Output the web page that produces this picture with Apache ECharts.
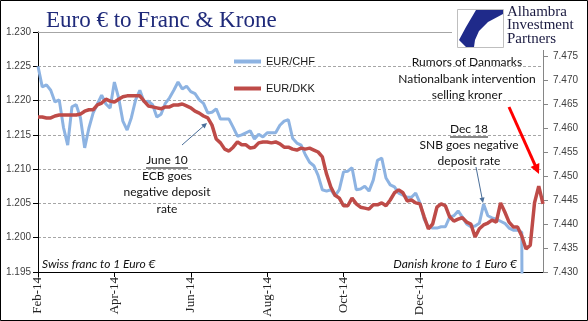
<!DOCTYPE html>
<html><head><meta charset="utf-8">
<script src="https://cdn.jsdelivr.net/npm/echarts@6/dist/echarts.min.js"></script>
<style>html,body{margin:0;padding:0;background:#fff}#c{width:588px;height:321px}</style>
</head><body><div id="c"></div>
<script>
// x positions: roughly every third trading day, Feb 2014 - Jan 2015
const tickLabels = ['Feb-14','Apr-14','Jun-14','Aug-14','Oct-14','Dec-14'];
const tickIndices = [0,18,36,54,72,90];
const eurChf = [
1.2250,1.2220,1.2223,1.2215,1.2198,1.2201,1.2161,1.2135,1.2191,1.2194,
1.2175,1.2131,1.2160,1.2182,1.2195,1.2208,1.2195,1.2189,1.2227,1.2204,
1.2170,1.2157,1.2175,1.2201,1.2215,1.2198,1.2199,1.2194,1.2176,1.2180,
1.2196,1.2204,1.2215,1.2227,1.2217,1.2221,1.2213,1.2210,1.2201,1.2196,
1.2182,1.2183,1.2188,1.2173,1.2173,1.2173,1.2161,1.2148,1.2150,1.2153,
1.2156,1.2144,1.2151,1.2147,1.2153,1.2153,1.2153,1.2164,1.2170,1.2172,
1.2145,1.2138,1.2135,1.2121,1.2110,1.2105,1.2091,1.2070,1.2068,1.2070,
1.2061,1.2070,1.2096,1.2097,1.2102,1.2070,1.2071,1.2075,1.2068,1.2084,
1.2113,1.2116,1.2087,1.2077,1.2074,1.2065,1.2062,1.2059,1.2059,1.2065,
1.2051,1.2027,1.2016,1.2014,1.2014,1.2016,1.2016,1.2030,1.2032,1.2039,
1.2030,1.2020,1.2016,1.2017,1.2021,1.2049,1.2032,1.2029,1.2027,1.2024,
1.2021,1.2014,1.2011,1.2011,1.2008,1.0300,1.0200,1.0400,1.0500,1.0400
];
const eurDkk = [
7.4623,7.4623,7.4621,7.4621,7.4625,7.4627,7.4627,7.4627,7.4627,7.4627,
7.4629,7.4635,7.4638,7.4638,7.4648,7.4652,7.4660,7.4656,7.4654,7.4660,
7.4665,7.4667,7.4667,7.4667,7.4667,7.4656,7.4646,7.4644,7.4642,7.4640,
7.4644,7.4644,7.4648,7.4648,7.4650,7.4646,7.4642,7.4635,7.4631,7.4625,
7.4621,7.4606,7.4577,7.4569,7.4556,7.4552,7.4560,7.4571,7.4565,7.4565,
7.4558,7.4560,7.4569,7.4571,7.4571,7.4569,7.4571,7.4567,7.4560,7.4560,
7.4556,7.4554,7.4558,7.4556,7.4558,7.4554,7.4550,7.4540,7.4504,7.4477,
7.4460,7.4454,7.4438,7.4438,7.4454,7.4442,7.4435,7.4433,7.4431,7.4440,
7.4440,7.4444,7.4438,7.4450,7.4465,7.4471,7.4465,7.4448,7.4450,7.4444,
7.4442,7.4415,7.4390,7.4400,7.4435,7.4442,7.4438,7.4415,7.4406,7.4410,
7.4413,7.4404,7.4400,7.4373,7.4390,7.4398,7.4402,7.4408,7.4404,7.4444,
7.4425,7.4404,7.4394,7.4394,7.4375,7.4348,7.4356,7.4444,7.4479,7.4442
];
const seriesNames = ['EUR/CHF','EUR/DKK'];

const categories = eurDkk.map((_, i) => {
  const k = tickIndices.indexOf(i);
  return k >= 0 ? tickLabels[k] : '';
});
const isTick = (i) => tickIndices.indexOf(i) >= 0;

const annFont = 'Lato, "Open Sans", sans-serif';
function arrow(x1, y1, x2, y2, color, w, head) {
  const a = Math.atan2(y2 - y1, x2 - x1);
  const hx1 = x2 - head * Math.cos(a - 0.45), hy1 = y2 - head * Math.sin(a - 0.45);
  const hx2 = x2 - head * Math.cos(a + 0.45), hy2 = y2 - head * Math.sin(a + 0.45);
  return [
    {type:'line', shape:{x1, y1, x2: x2 - head*0.6*Math.cos(a), y2: y2 - head*0.6*Math.sin(a)}, style:{stroke:color, lineWidth:w}, z:100},
    {type:'polygon', shape:{points:[[x2,y2],[hx1,hy1],[hx2,hy2]]}, style:{fill:color}, z:100}
  ];
}
function txt(x, y, s, opts) {
  return Object.assign({type:'text', x, y, z:100, style:Object.assign({text:s, font:'12px ' + annFont, fill:'#111', textAlign:'center', textVerticalAlign:'middle'}, opts||{})});
}

const chart = echarts.init(document.getElementById('c'), null, {renderer:'canvas'});
chart.setOption({
  animation: false,
  backgroundColor: '#fff',
  title: {
    text: 'Euro € to Franc & Krone', left: 41, top: 4,
    textStyle: {fontFamily: '"Liberation Serif", serif', fontSize: 23, fontWeight: 'normal', color: '#1F2A7A'}
  },
  legend: {
    orient: 'vertical', left: 229, top: 51, itemWidth: 27, itemHeight: 4, itemGap: 16, icon: 'rect',
    data: seriesNames,
    textStyle: {fontFamily: '"Liberation Sans", Arial, sans-serif', fontSize: 11, color: '#1a1a1a'}
  },
  grid: {left: 38, right: 45, top: 32, bottom: 49},
  xAxis: {
    type: 'category', boundaryGap: false, data: categories,
    axisLine: {lineStyle: {color: '#000', width: 1}},
    axisTick: {show: true, interval: (i) => isTick(i), length: 5, lineStyle: {color: '#000'}},
    axisLabel: {interval: (i) => isTick(i), rotate: 90, margin: 5,
      fontFamily: '"Liberation Serif", serif', fontSize: 13, color: '#222'},
    splitLine: {show: false}
  },
  yAxis: [{
    type: 'value', min: 1.195, max: 1.230, interval: 0.005, position: 'left',
    axisLine: {show: true, lineStyle: {color: '#000'}},
    axisTick: {show: true, length: 5, lineStyle: {color: '#000'}},
    axisLabel: {formatter: (v) => v.toFixed(3), margin: 7,
      fontFamily: '"Liberation Sans", Tahoma, sans-serif', fontSize: 10, color: '#404040'},
    splitLine: {show: true, lineStyle: {color: '#A6A6A6', type: [3, 2], width: 1}}
  }, {
    type: 'value', min: 7.430, max: 7.480, interval: 0.005, position: 'right',
    axisLine: {show: true, lineStyle: {color: '#868686'}},
    axisTick: {show: true, length: 5, lineStyle: {color: '#868686'}},
    axisLabel: {formatter: (v) => (v > 7.4795 ? '' : v.toFixed(3)), margin: 10,
      fontFamily: '"Liberation Sans", Tahoma, sans-serif', fontSize: 10, color: '#404040'},
    splitLine: {show: false}
  }],
  series: [{
    name: seriesNames[0], type: 'line', yAxisIndex: 0, data: eurChf, showSymbol: false, clip: true,
    lineStyle: {width: 3, color: '#8DB3E2'}, itemStyle: {color: '#8DB3E2'}
  }, {
    name: seriesNames[1], type: 'line', yAxisIndex: 1, data: eurDkk, showSymbol: false, clip: true,
    lineStyle: {width: 3.5, color: '#BE4B48'}, itemStyle: {color: '#BE4B48'}
  }],
  graphic: [
    {type:'rect', shape:{x:0.5, y:0.5, width:587, height:320}, style:{fill:'none', stroke:'#000', lineWidth:1}, z:200},
    {type:'line', shape:{x1:38, y1:32.5, x2:455, y2:32.5}, style:{stroke:'#A6A6A6', lineWidth:1}, z:1},
    // logo
    {type:'rect', shape:{x:452, y:4, width:130, height:46}, style:{fill:'#fff'}, z:90},
    {type:'rect', shape:{x:457.5, y:9.5, width:46, height:38}, style:{fill:'#fff', stroke:'#BFBFBF', lineWidth:1}, z:95},
    {type:'polygon', shape:{points:[[476,10],[503,10],[503,14],[488,22],[479,31],[475,40],[474,47],[466,47],[459,40],[466,27]]}, style:{fill:'#1F2A8A'}, z:96},
    {type:'text', x:507, y:5, z:97, style:{text:'Alhambra\nInvestment\nPartners', font:'15px "Liberation Serif", serif', fill:'#1a1a40', lineHeight:13.5, textAlign:'left', textVerticalAlign:'top'}},
    // annotations
    txt(467, 62, 'Rumors of Danmarks'),
    txt(467, 79, 'Nationalbank intervention'),
    txt(467, 95, 'selling kroner'),
    ...arrow(509, 107, 539, 174, '#FF0000', 3, 11),
    txt(469, 129, 'Dec 18'),
    {type:'line', shape:{x1:450, y1:137, x2:488, y2:137}, style:{stroke:'#111', lineWidth:1}, z:100},
    txt(469, 145, 'SNB goes negative'),
    txt(469, 161, 'deposit rate'),
    ...arrow(476, 167, 483, 203, '#4A6E99', 1, 6),
    txt(167, 160, 'June 10'),
    {type:'line', shape:{x1:146, y1:168, x2:188, y2:168}, style:{stroke:'#111', lineWidth:1}, z:100},
    txt(167, 176, 'ECB goes'),
    txt(167, 192, 'negative deposit'),
    txt(167, 209, 'rate'),
    ...arrow(182, 145, 207, 123, '#4A6E99', 1, 6),
    txt(42, 264, 'Swiss franc to 1 Euro €', {textAlign:'left', font:'italic 12px ' + annFont}),
    txt(517, 264, 'Danish krone to 1 Euro €', {textAlign:'right', font:'italic 12px ' + annFont})
  ]
});
</script>
</body></html>
